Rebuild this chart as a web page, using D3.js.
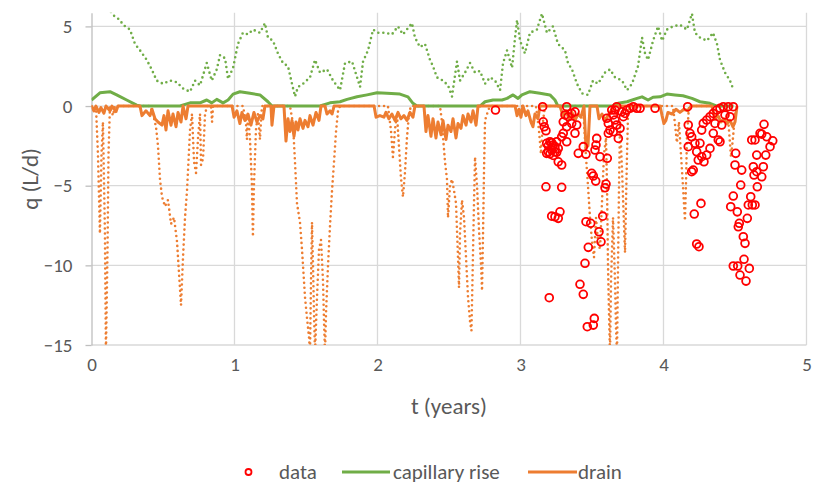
<!DOCTYPE html>
<html>
<head>
<meta charset="utf-8">
<script src="https://cdn.jsdelivr.net/npm/d3@7"></script>
<style>
  body { margin: 0; background: #ffffff; }
  text { font-family: Calibri, Carlito, Lato, sans-serif; fill: #595959; }
</style>
</head>
<body>
<svg id="chart" width="814" height="489"></svg>
<script>
// ---- chart data: [t (years), q (L/d)] ----
var x_ticks = [0, 1, 2, 3, 4, 5];
var y_ticks = [-15, -10, -5, 0, 5];
var legend_labels = ["data", "capillary rise", "drain"];

// potential capillary rise (green dotted)
var cap_potential = [[0.136,5.9],[0.152,5.7],[0.199,5.4],[0.220,5.1],[0.269,4.8],[0.304,3.9],[0.339,3.5],[0.386,2.9],[0.421,2.3],[0.456,1.6],[0.500,1.4],[0.549,1.6],[0.596,1.5],[0.640,1.1],[0.689,0.9],[0.724,1.6],[0.759,1.3],[0.806,2.7],[0.841,1.6],[0.876,2.3],[0.899,3.2],[0.934,3.0],[0.955,1.7],[0.990,2.4],[1.024,3.9],[1.059,4.6],[1.094,4.5],[1.129,4.8],[1.178,4.6],[1.213,5.2],[1.234,4.3],[1.269,4.1],[1.304,3.3],[1.339,2.7],[1.374,2.5],[1.402,1.4],[1.423,0.6],[1.444,1.2],[1.479,1.4],[1.528,1.8],[1.563,2.9],[1.598,2.1],[1.647,2.3],[1.689,1.6],[1.738,1.0],[1.773,2.7],[1.822,2.8],[1.857,1.8],[1.878,1.2],[1.899,2.8],[1.934,3.5],[1.969,4.8],[2.003,4.6],[2.052,4.6],[2.101,4.5],[2.143,5.0],[2.178,4.5],[2.241,5.2],[2.262,4.3],[2.297,3.7],[2.332,3.9],[2.367,2.9],[2.388,2.5],[2.416,1.8],[2.458,1.6],[2.493,1.3],[2.521,0.6],[2.556,2.8],[2.577,1.6],[2.612,2.1],[2.647,2.7],[2.682,2.1],[2.717,2.2],[2.752,1.4],[2.787,1.8],[2.822,1.6],[2.857,1.0],[2.878,2.7],[2.906,3.5],[2.941,2.4],[2.962,4.3],[2.976,5.4],[2.997,4.1],[3.031,3.3],[3.066,4.6],[3.115,4.8],[3.150,5.8],[3.185,4.6],[3.227,5.0],[3.262,3.9],[3.311,3.5],[3.332,2.7],[3.360,2.3],[3.395,1.4],[3.430,0.8],[3.472,0.7],[3.507,1.6],[3.542,1.4],[3.591,2.1],[3.626,2.3],[3.661,1.8],[3.710,1.6],[3.745,1.0],[3.780,1.4],[3.822,2.5],[3.850,4.3],[3.871,3.3],[3.892,2.9],[3.927,4.1],[3.962,5.0],[3.990,4.1],[4.024,4.8],[4.066,5.0],[4.115,5.1],[4.164,4.8],[4.199,5.8],[4.220,4.6],[4.255,4.3],[4.304,4.1],[4.346,4.6],[4.374,3.9],[4.395,2.9],[4.430,2.1],[4.465,1.6],[4.486,1.1]];

// capillary rise (green solid)
var cap_rise = [[0,0.38],[0.059,0.83],[0.129,0.9],[0.176,0.7],[0.246,0.38],[0.316,0.06],[0.339,0],[0.619,0],[0.689,0.2],[0.759,0.2],[0.806,0.38],[0.841,0.2],[0.876,0.42],[0.920,0.2],[0.955,0.38],[0.990,0.75],[1.038,0.9],[1.108,0.8],[1.178,0.7],[1.234,0.27],[1.262,0],[1.598,0],[1.668,0.2],[1.738,0.27],[1.787,0.42],[1.857,0.58],[1.927,0.7],[1.997,0.83],[2.066,0.8],[2.157,0.75],[2.213,0.58],[2.248,0.17],[2.276,0],[2.717,0],[2.752,0.27],[2.808,0.38],[2.871,0.38],[2.906,0.48],[2.948,0.7],[2.983,0.48],[3.010,0.7],[3.066,0.9],[3.136,0.8],[3.206,0.7],[3.241,0.38],[3.262,0],[3.640,0],[3.682,0.17],[3.745,0.27],[3.815,0.48],[3.850,0.58],[3.892,0.38],[3.927,0.55],[3.976,0.58],[4.024,0.75],[4.080,0.7],[4.136,0.65],[4.199,0.48],[4.255,0.27],[4.325,0.17],[4.374,0],[4.49,0]];

// potential drain (orange dotted)
var drain_potential = [[0,0],[0.031,0],[0.045,-3],[0.059,-8],[0.070,-3],[0.080,-1],[0.094,-8],[0.101,-15.5],[0.112,-9],[0.119,-3],[0.129,0],[0.150,-0.6],[0.164,0],
  [0.409,0],[0.430,-0.5],[0.451,-1.3],[0.465,-2.5],[0.479,-4.6],[0.493,-5.7],[0.514,-6.3],[0.535,-5.9],[0.556,-7.4],[0.577,-7.0],[0.598,-8.5],[0.612,-10.5],[0.626,-12.5],[0.640,-9.5],[0.654,-7],[0.668,-5.3],[0.678,-3.5],[0.689,-1.5],[0.703,-0.5],[0.717,-3.5],[0.731,-4.2],[0.745,-2],[0.759,-0.5],[0.766,-3.7],[0.780,-3.3],[0.794,-0.5],[0.808,0],[0.836,0],[0.843,-1.0],[0.850,0],
  [1.059,0],[1.080,-1.0],[1.087,-2.1],[1.094,-0.5],[1.108,-2],[1.122,-5],[1.129,-8.2],[1.136,-5],[1.150,-1.5],[1.164,-0.5],[1.178,-2.1],[1.185,-1],[1.192,0],
  [1.388,0],[1.409,-1.1],[1.423,-3.5],[1.437,-6.1],[1.458,-7.3],[1.472,-9.0],[1.479,-10],[1.493,-12],[1.507,-13.3],[1.521,-14.5],[1.528,-15.5],[1.535,-11],[1.542,-7.3],[1.549,-10],[1.556,-13],[1.563,-15.5],[1.577,-12],[1.591,-9],[1.605,-8.4],[1.619,-11],[1.626,-13.5],[1.633,-15.5],[1.640,-13],[1.647,-11.5],[1.654,-10],[1.668,-7.5],[1.682,-5.3],[1.696,-3.5],[1.710,-1.6],[1.724,-0.3],[1.738,0],
  [2.073,0],[2.094,-1.5],[2.108,-3.2],[2.122,-1.5],[2.136,-0.5],[2.150,-2.5],[2.164,-4.5],[2.178,-5.7],[2.192,-4.2],[2.206,-2],[2.220,-0.5],[2.234,0],
  [2.437,0],[2.451,-1],[2.458,-1.9],[2.472,-3.5],[2.486,-4.6],[2.493,-7.0],[2.507,-5],[2.521,-4.6],[2.535,-5.3],[2.549,-6.1],[2.563,-9.5],[2.570,-11.4],[2.577,-8],[2.591,-5.9],[2.605,-7],[2.619,-9.5],[2.633,-12],[2.647,-13.5],[2.657,-14.1],[2.664,-11],[2.675,-6],[2.682,-3.2],[2.696,-5],[2.710,-7.8],[2.724,-10],[2.731,-11.6],[2.738,-8],[2.745,-4],[2.752,-0.9],[2.773,-0.3],[2.787,0],
  [3.108,0],[3.129,-1.5],[3.143,-3],[3.157,-1],[3.171,0],
  [3.437,0],[3.458,-3.2],[3.472,-5],[3.486,-7],[3.500,-8.5],[3.514,-9.5],[3.528,-7],[3.542,-8.5],[3.556,-9.0],[3.570,-6],[3.584,-3],[3.598,-2],[3.605,-5],[3.612,-10],[3.619,-13],[3.626,-15.5],[3.633,-11],[3.647,-7],[3.661,-11],[3.668,-14],[3.675,-15.5],[3.682,-10],[3.689,-5],[3.696,-1],[3.710,-4],[3.724,-7.5],[3.731,-9.2],[3.738,-6],[3.745,-3],[3.752,-0.5],[3.766,0],
  [4.066,0],[4.080,-1.1],[4.094,-2.3],[4.108,-1],[4.122,-3],[4.136,-5],[4.150,-7.2],[4.157,-5],[4.164,-2],[4.178,0],
  [4.444,0],[4.458,-1.5],[4.472,-3.2],[4.486,-2],[4.500,-0.5],[4.514,0]];

// drain (orange solid)
var drain = [[0,0],[0.017,-0.3],[0.031,0],[0.052,-0.4],[0.066,-0.1],[0.087,-0.45],[0.101,0],[0.129,-0.3],[0.143,0],[0.171,-0.35],[0.185,0],
  [0.339,0],[0.353,-0.6],[0.381,-0.3],[0.409,-0.6],[0.423,-0.2],[0.444,-0.8],[0.465,-1.0],[0.493,-1.2],[0.507,-0.6],[0.521,-1.5],[0.535,-0.3],[0.556,-1.2],[0.570,-0.5],[0.591,-1.3],[0.605,-0.4],[0.626,-1.0],[0.640,0],[0.661,-0.8],[0.675,0],
  [0.983,0],[0.997,-0.7],[1.017,-0.3],[1.038,-1.1],[1.052,-0.4],[1.073,-0.9],[1.094,-0.5],[1.115,-1.2],[1.136,-0.4],[1.157,-1.0],[1.178,-0.6],[1.199,-0.8],[1.213,0],
  [1.255,0],[1.262,-1.2],[1.276,0],
  [1.346,0],[1.360,-2.2],[1.374,-0.8],[1.388,-1.6],[1.402,-0.9],[1.416,-1.9],[1.430,-1.0],[1.444,-1.5],[1.458,-0.8],[1.479,-1.4],[1.493,-0.9],[1.514,-1.3],[1.528,-0.6],[1.549,-1.2],[1.570,-0.4],[1.591,-0.9],[1.605,0],
  [1.633,0],[1.647,-0.5],[1.668,-0.3],[1.682,-0.5],[1.696,0],
  [1.976,0],[1.990,-0.7],[2.017,-0.6],[2.045,-0.7],[2.059,-0.4],[2.080,-0.8],[2.101,-0.5],[2.122,-0.9],[2.143,-0.4],[2.164,-0.8],[2.185,-0.6],[2.206,-0.9],[2.227,-0.4],[2.248,-0.7],[2.262,0],
  [2.325,0],[2.339,-1.6],[2.353,-0.6],[2.374,-1.9],[2.388,-0.8],[2.409,-2.0],[2.423,-1.0],[2.444,-1.8],[2.458,-0.9],[2.479,-2.1],[2.493,-1.2],[2.514,-1.6],[2.528,-0.8],[2.549,-2.0],[2.563,-1.1],[2.584,-1.4],[2.598,-0.6],[2.619,-1.2],[2.633,-0.5],[2.654,-1.0],[2.668,-0.3],[2.689,-1.2],[2.703,0],
  [2.962,0],[2.976,-0.6],[2.990,-0.2],[3.003,-0.7],[3.017,0],[3.038,-0.6],[3.052,-0.3],[3.073,-1.0],[3.087,-1.3],[3.101,-0.5],[3.122,-0.8],[3.136,0],
  [3.276,0],[3.297,-0.6],[3.318,-0.3],[3.339,-0.8],[3.360,-0.4],[3.381,-0.9],[3.402,-0.5],[3.423,-0.7],[3.444,0],[3.458,-2.6],[3.472,-2.5],[3.486,0],
  [3.535,0],[3.549,-0.8],[3.570,-0.5],[3.591,-0.9],[3.612,-0.6],[3.633,-0.3],[3.654,0],
  [3.976,0],[3.990,-0.6],[4.003,-1.1],[4.017,-0.9],[4.031,-0.4],[4.059,-0.5],[4.087,-0.2],[4.115,-0.4],[4.143,-0.2],[4.171,-0.3],[4.192,0],
  [4.339,0],[4.360,-0.8],[4.381,-0.6],[4.402,-1.0],[4.423,-0.8],[4.444,-1.1],[4.465,-0.9],[4.486,-1.3],[4.500,-1.0],[4.514,0]];

// measured data (red circles)
var measured = [[2.825,-0.25],
  [3.155,-0.04],[3.159,-0.99],[3.166,-1.30],[3.178,-1.55],[3.183,-2.34],[3.206,-2.24],[3.194,-2.87],[3.229,-2.45],[3.241,-2.87],[3.264,-2.66],[3.218,-2.76],[3.253,-2.24],[3.183,-2.97],[3.264,-3.50],[3.288,-3.70],[3.194,-2.5],[3.218,-2.3],[3.241,-2.55],[3.206,-3.0],[3.229,-3.1],[3.253,-2.9],
  [3.178,-5.07],[3.288,-5.10],[3.218,-6.91],[3.241,-6.95],[3.264,-7.05],[3.276,-6.64],[3.201,-12.03],[3.323,-0.04],[3.311,-0.56],[3.299,-0.99],[3.334,-0.67],[3.358,-0.46],[3.381,-0.36],[3.323,-1.30],[3.358,-1.09],[3.393,-1.19],[3.299,-1.71],[3.288,-1.93],[3.323,-2.24],[3.381,-1.71],[3.404,-2.97],[3.439,-2.55],[3.458,-3.03],[3.533,-2.03],[3.528,-2.45],[3.521,-2.76],[3.556,-3.18],[3.607,-3.28],[3.498,-4.22],[3.509,-4.39],[3.526,-4.71],[3.598,-4.90],[3.591,-5.13],[3.458,-7.26],[3.491,-7.36],[3.575,-6.91],[3.549,-7.89],[3.563,-8.52],[3.474,-8.87],[3.451,-9.87],[3.416,-11.19],[3.439,-11.82],[3.516,-13.33],[3.467,-13.85],[3.509,-13.75],
  [3.603,-0.77],[3.614,-1.09],[3.626,-1.51],[3.649,-0.56],[3.661,-0.88],[3.673,-1.19],[3.684,-2.03],[3.614,-1.71],[3.708,-0.36],[3.719,-0.67],[3.743,-0.25],[3.766,-0.14],[3.789,-0.04],[3.836,-0.14],[3.696,-1.40],[3.661,-0.25],[3.941,-0.14],[3.638,-0.25],[3.673,-0.04],[3.813,-0.14],[3.649,-1.61],[3.731,-0.46],
  [4.169,-0.04],[4.173,-1.19],[4.185,-1.71],[4.197,-1.93],[4.173,-2.55],[4.220,-2.34],[4.255,-2.34],[4.232,-2.87],[4.267,-3.18],[4.302,-3.08],[4.243,-3.39],[4.283,-3.50],[4.325,-2.66],[4.197,-4.12],[4.208,-4.02],[4.262,-6.11],[4.215,-6.78],[4.232,-8.66],[4.248,-8.83],[4.267,-1.51],[4.278,-1.09],[4.302,-0.88],[4.325,-0.67],[4.348,-0.46],[4.372,-0.25],[4.395,-0.14],[4.418,-0.04],[4.453,-0.04],[4.488,-0.04],[4.348,-1.71],[4.395,-2.24],[4.360,-1.09],[4.430,-0.56],[4.465,-0.67],[4.407,-1.19],[4.383,-2.13],
  [4.505,-2.97],[4.500,-3.70],[4.547,-4.02],[4.540,-4.96],[4.488,-5.65],[4.470,-6.32],[4.516,-6.64],[4.530,-7.36],[4.523,-7.58],[4.558,-8.20],[4.570,-8.62],[4.563,-9.62],[4.488,-10.04],[4.519,-10.04],[4.535,-10.61],[4.600,-10.19],[4.577,-10.99],[4.586,-7.05],[4.593,-6.21],[4.610,-5.69],[4.621,-6.21],[4.640,-6.21],[4.656,-5.07],[4.633,-4.33],[4.652,-4.12],[4.687,-4.44],[4.698,-3.81],[4.628,-3.81],[4.715,-3.08],[4.652,-3.08],[4.687,-1.76],[4.722,-1.93],[4.703,-1.15],[4.617,-2.13],[4.640,-2.13],[4.745,-2.55],[4.764,-2.18],[4.675,-1.71]];

// ---- colours ----
var green = "#70ad47";
var orange = "#ed7d31";
var red = "#ff0000";
var grid_color = "#d9d9d9";

// ---- plot area ----
var plot_left = 91.5, plot_right = 806.5;
var plot_top = 12.7, plot_bottom = 345;

var svg = d3.select("#chart");
svg.append("rect").attr("width", 814).attr("height", 489).attr("fill", "#ffffff");

var x = d3.scaleLinear().domain([0, 5]).range([plot_left, plot_right]);
var y = d3.scaleLinear().domain([-15, 5.86]).range([plot_bottom, plot_top]);

// clip everything to plot area
svg.append("clipPath").attr("id", "plot-clip")
  .append("rect")
  .attr("x", plot_left).attr("y", plot_top)
  .attr("width", plot_right - plot_left).attr("height", plot_bottom - plot_top);

// gridlines
svg.append("g").selectAll("line").data(y_ticks).enter().append("line")
  .attr("x1", plot_left).attr("x2", plot_right)
  .attr("y1", d => y(d)).attr("y2", d => y(d))
  .attr("stroke", grid_color).attr("stroke-width", 1.3);

svg.append("g").selectAll("line").data(x_ticks.slice(1)).enter().append("line")
  .attr("x1", d => x(d)).attr("x2", d => x(d))
  .attr("y1", plot_top).attr("y2", plot_bottom)
  .attr("stroke", grid_color).attr("stroke-width", 1.3);

// y axis (line + outside ticks + labels)
var y_axis = svg.append("g")
  .attr("transform", "translate(" + plot_left + ",0)")
  .call(d3.axisLeft(y).tickValues(y_ticks).tickSize(6).tickSizeOuter(0).tickPadding(13));
y_axis.select(".domain").attr("stroke", "#bfbfbf").attr("stroke-width", 1.3);
y_axis.selectAll(".tick line").attr("stroke", "#bfbfbf").attr("stroke-width", 1.3);
y_axis.selectAll(".tick text").style("font-size", "19px").attr("fill", "#595959");

// x axis labels only
var x_axis = svg.append("g")
  .attr("transform", "translate(0," + plot_bottom + ")")
  .call(d3.axisBottom(x).tickValues(x_ticks).tickFormat(d3.format("d")).tickSize(0).tickPadding(13));
x_axis.select(".domain").remove();
x_axis.selectAll(".tick text").style("font-size", "19px").attr("fill", "#595959");

// axis titles
svg.append("text")
  .attr("transform", "translate(38," + ((plot_top + plot_bottom) / 2) + ") rotate(-90)")
  .attr("text-anchor", "middle")
  .style("font-size", "23px")
  .text("q (L/d)");

svg.append("text")
  .attr("x", (plot_left + plot_right) / 2).attr("y", 414)
  .attr("text-anchor", "middle")
  .style("font-size", "23px")
  .text("t (years)");

// ---- series ----
var line_gen = d3.line().x(d => x(d[0])).y(d => y(d[1]));
var plot_g = svg.append("g").attr("clip-path", "url(#plot-clip)");

// dotted potentials
plot_g.append("path").datum(cap_potential)
  .attr("d", line_gen).attr("fill", "none")
  .attr("stroke", green).attr("stroke-width", 2.6)
  .attr("stroke-linecap", "round").attr("stroke-dasharray", "0 5");

plot_g.append("path").datum(drain_potential)
  .attr("d", line_gen).attr("fill", "none")
  .attr("stroke", orange).attr("stroke-width", 2.6)
  .attr("stroke-linecap", "round").attr("stroke-dasharray", "0 5");

// solid fluxes
plot_g.append("path").datum(cap_rise)
  .attr("d", line_gen).attr("fill", "none")
  .attr("stroke", green).attr("stroke-width", 3)
  .attr("stroke-linejoin", "round");

plot_g.append("path").datum(drain)
  .attr("d", line_gen).attr("fill", "none")
  .attr("stroke", orange).attr("stroke-width", 3)
  .attr("stroke-linejoin", "round");

// measured data
plot_g.append("g").selectAll("circle").data(measured).enter().append("circle")
  .attr("cx", d => x(d[0])).attr("cy", d => y(d[1]))
  .attr("r", 3.9)
  .attr("fill", "none")
  .attr("stroke", red).attr("stroke-width", 1.8);

// ---- legend ----
var legend_y = 472;
var legend = svg.append("g");

legend.append("circle")
  .attr("cx", 248.5).attr("cy", legend_y).attr("r", 3)
  .attr("fill", "none").attr("stroke", red).attr("stroke-width", 1.8);
legend.append("text").attr("x", 279).attr("y", legend_y).attr("dy", "0.35em")
  .style("font-size", "21px").text(legend_labels[0]);

legend.append("line")
  .attr("x1", 342).attr("x2", 390).attr("y1", legend_y).attr("y2", legend_y)
  .attr("stroke", green).attr("stroke-width", 3);
legend.append("text").attr("x", 393).attr("y", legend_y).attr("dy", "0.35em")
  .style("font-size", "21px").text(legend_labels[1]);

legend.append("line")
  .attr("x1", 528).attr("x2", 577).attr("y1", legend_y).attr("y2", legend_y)
  .attr("stroke", orange).attr("stroke-width", 3);
legend.append("text").attr("x", 578).attr("y", legend_y).attr("dy", "0.35em")
  .style("font-size", "21px").text(legend_labels[2]);
</script>
</body>
</html>
